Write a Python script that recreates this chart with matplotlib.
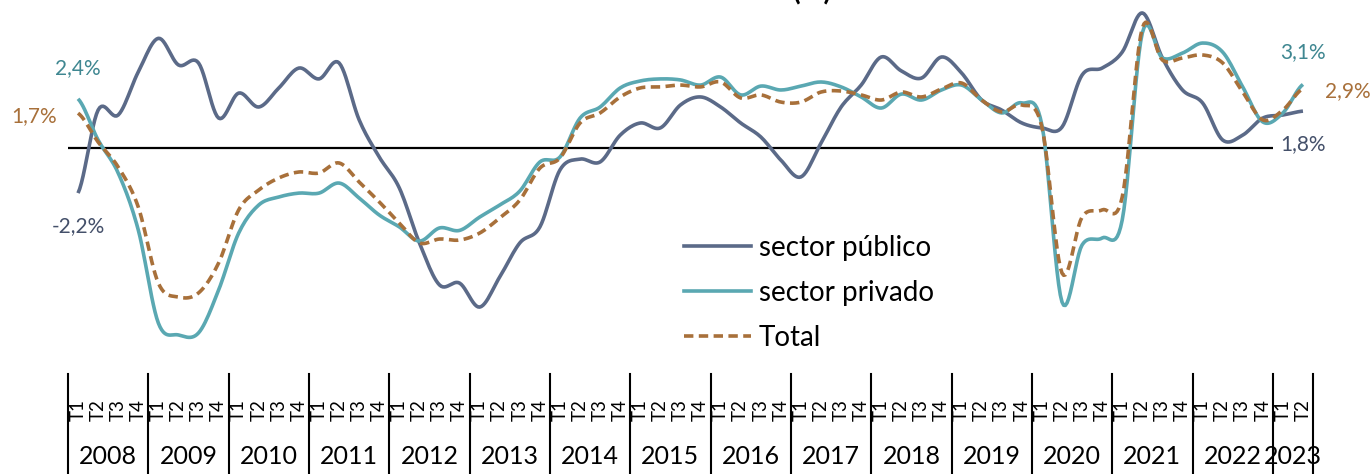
#! /usr/bin/env python3

import numpy as np
import matplotlib
matplotlib.use('Agg')
import matplotlib.pyplot as plt
from matplotlib.lines import Line2D

plt.rcParams['font.family'] = ['Lato', 'DejaVu Sans']

years = ['2008', '2009', '2010', '2011', '2012', '2013', '2014', '2015',
         '2016', '2017', '2018', '2019', '2020', '2021', '2022', '2023']
quarters = ['T1', 'T2', 'T3', 'T4'] * 15 + ['T1', 'T2']

publico = [-2.2, 1.85, 1.61, 3.71, 5.35, 4.05, 4.15, 1.46, 2.68, 2.0,
           2.93, 3.9, 3.37, 4.15, 1.37, -0.44, -1.95, -4.63, -6.68, -6.59,
           -7.76, -6.29, -4.63, -3.85, -1.07, -0.54, -0.68, 0.63, 1.22, 0.98,
           2.1, 2.49, 2.0, 1.22, 0.54, -0.59, -1.41, 0.24, 2.0, 3.07,
           4.44, 3.76, 3.41, 4.44, 3.66, 2.34, 1.85, 1.22, 0.98, 1.02,
           3.56, 3.9, 4.68, 6.59, 4.39, 2.83, 2.2, 0.39, 0.63, 1.46,
           1.61, 1.8]
privado = [2.4, 0.39, -1.22, -4.0, -8.54, -9.12, -9.02, -6.93, -4.15, -2.78,
           -2.39, -2.2, -2.2, -1.71, -2.44, -3.27, -3.85, -4.54, -3.9, -4.02,
           -3.37, -2.78, -2.1, -0.68, -0.44, 1.46, 2.0, 2.93, 3.27, 3.37,
           3.32, 3.07, 3.46, 2.59, 3.02, 2.83, 3.02, 3.22, 2.98, 2.49,
           1.95, 2.63, 2.34, 2.83, 3.07, 2.34, 1.71, 2.2, 1.12, -7.51,
           -4.73, -4.39, -3.51, 5.61, 4.39, 4.63, 5.12, 4.68, 2.98, 1.27,
           1.71, 3.1]
total = [1.7, 0.29, -0.93, -2.88, -6.59, -7.27, -7.07, -5.61, -3.02, -2.05,
         -1.46, -1.17, -1.22, -0.73, -1.66, -2.63, -3.66, -4.63, -4.44, -4.49,
         -4.15, -3.41, -2.54, -0.98, -0.49, 1.22, 1.71, 2.49, 2.93, 2.98,
         3.07, 2.98, 3.22, 2.44, 2.59, 2.24, 2.24, 2.73, 2.78, 2.59,
         2.34, 2.73, 2.49, 2.88, 3.17, 2.34, 1.76, 2.1, 1.02, -6.1,
         -3.37, -3.02, -2.39, 5.85, 4.29, 4.39, 4.54, 4.15, 2.73, 1.37,
         1.85, 2.9]

c_pub = '#5b6a88'
c_priv = '#5aa8b2'
c_tot = '#a8703a'
c_pub_txt = '#44506a'
c_priv_txt = '#3f8791'
c_tot_txt = '#a8703a'


def smooth(y, n=12):
    # excel-like smoothed line (catmull-rom through every point)
    y = np.asarray(y, dtype=float)
    x = np.arange(len(y), dtype=float)
    p = np.concatenate([[y[0]], y, [y[-1]]])
    xs, ys = [], []
    t = np.linspace(0, 1, n, endpoint=False)
    for k in range(len(y) - 1):
        p0, p1, p2, p3 = p[k], p[k + 1], p[k + 2], p[k + 3]
        b1 = p1 + (p2 - p0) / 6
        b2 = p2 - (p3 - p1) / 6
        yy = ((1 - t)**3 * p1 + 3 * (1 - t)**2 * t * b1
              + 3 * (1 - t) * t**2 * b2 + t**3 * p2)
        xs.append(x[k] + t)
        ys.append(yy)
    xs.append([x[-1]])
    ys.append([y[-1]])
    return np.concatenate(xs), np.concatenate(ys)


def main():
    W, H = 1371, 474
    fig = plt.figure(figsize=(W / 100, H / 100), dpi=100)
    fig.patch.set_facecolor('white')
    x0, x1, ybot = 68, 1313, 374
    ax = fig.add_axes([x0 / W, (H - ybot) / H, (x1 - x0) / W, ybot / H])
    n = len(quarters)
    ax.set_xlim(-0.5, n - 0.5)
    ax.set_ylim(-(ybot - 148) / 20.5, 148 / 20.5)
    ax.axis('off')

    ax.hlines(0, -0.5, 59.5, color='black', lw=1.6, zorder=1)

    xs, ys = smooth(publico)
    ax.plot(xs, ys, color=c_pub, lw=2.6, solid_capstyle='butt', zorder=3)
    xs, ys = smooth(privado)
    ax.plot(xs, ys, color=c_priv, lw=2.6, solid_capstyle='butt', zorder=4)
    xs, ys = smooth(total)
    ax.plot(xs, ys, color=c_tot, lw=2.6, dashes=(2.6, 1.5), zorder=5)

    # end labels
    lab = dict(textcoords='offset points', ha='center', va='center',
               fontsize=15)
    ax.annotate('2,4%', (0, privado[0]), xytext=(0, 22), color=c_priv_txt, **lab)
    ax.annotate('1,7%', (0, total[0]), xytext=(-32, -2), color=c_tot_txt, **lab)
    ax.annotate('-2,2%', (0, publico[0]), xytext=(0, -24), color=c_pub_txt, **lab)
    ax.annotate('3,1%', (n - 1, privado[-1]), xytext=(0, 23), color=c_priv_txt, **lab)
    ax.annotate('2,9%', (n - 1, total[-1]), xytext=(32, -1.5), color=c_tot_txt, **lab)
    ax.annotate('1,8%', (n - 1, publico[-1]), xytext=(0, -24), color=c_pub_txt, **lab)

    # category axis: quarters, then years
    tr = ax.get_xaxis_transform()
    def ay(ypx):
        return (ybot - ypx) / ybot
    for i, q in enumerate(quarters):
        ax.text(i, ay(421), q, rotation=90, ha='center', va='bottom',
                fontsize=13.5, transform=tr, clip_on=False)
    bounds = list(range(0, n, 4)) + [n]
    for b in bounds:
        ax.plot([b - 0.5, b - 0.5], [ay(374), ay(H + 2)], color='black',
                lw=1.5, transform=tr, clip_on=False)
    for k, yr in enumerate(years):
        lo = 4 * k
        hi = min(4 * k + 4, n)
        ax.text((lo + hi - 1) / 2, ay(456), yr, ha='center', va='center',
                fontsize=18, transform=tr, clip_on=False)

    handles = [Line2D([], [], color=c_pub, lw=2.6),
               Line2D([], [], color=c_priv, lw=2.6),
               Line2D([], [], color=c_tot, lw=2.6, dashes=(2.6, 1.5))]
    ax.legend(handles, ['sector público', 'sector privado', 'Total'],
              loc='upper left', bbox_to_anchor=(684 / W, 1 - 235 / H),
              bbox_transform=fig.transFigure, frameon=False, fontsize=20,
              handlelength=2.4, handletextpad=0.3, labelspacing=0.68,
              borderpad=0, borderaxespad=0)

    fig.text(812 / W, 1.0, '(%)', ha='center', va='baseline',
             fontweight='bold', fontsize=20)

    fig.savefig('out.png', dpi=100)
    plt.close()
    return None


if __name__ == '__main__':
    main()
